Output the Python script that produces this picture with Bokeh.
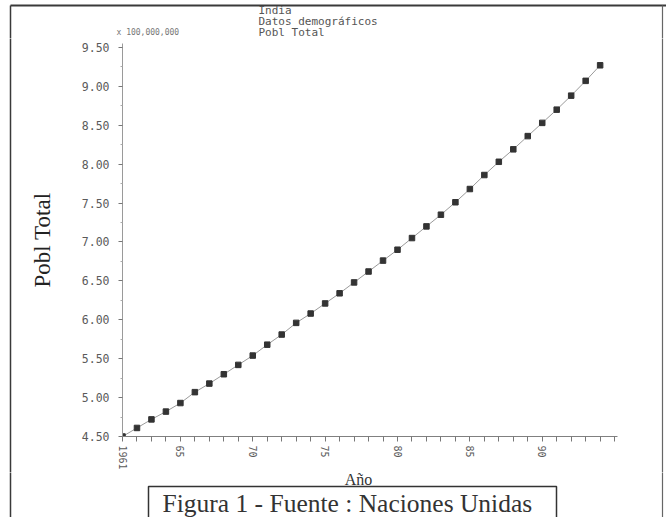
import math
from bokeh.plotting import figure
from bokeh.layouts import column, row
from bokeh.models import FixedTicker, NumeralTickFormatter, Range1d
from bokeh.core.properties import value
from bokeh.embed import file_html
from bokeh.resources import INLINE

# Población total de la India (cientos de millones), 1961-1994
years = list(range(1961, 1995))
pobl = [4.50, 4.61, 4.72, 4.82, 4.93, 5.07, 5.18, 5.30, 5.42, 5.54,
        5.68, 5.81, 5.96, 6.08, 6.21, 6.34, 6.48, 6.62, 6.76, 6.90,
        7.05, 7.20, 7.35, 7.51, 7.68, 7.86, 8.03, 8.19, 8.36, 8.53,
        8.70, 8.88, 9.07, 9.27]

y_ticks = [4.5, 5.0, 5.5, 6.0, 6.5, 7.0, 7.5, 8.0, 8.5, 9.0, 9.5]
x_ticks = list(range(1961, 1996))
x_tick_labels = {1961: "1961", 1965: "65", 1970: "70", 1975: "75",
                 1980: "80", 1985: "85", 1990: "90"}

title_lines = ["India", "Datos demográficos", "Pobl Total"]
y_scale_note = "x 100,000,000"
x_title = "Año"
y_title = "Pobl Total"
caption = "Figura 1  - Fuente : Naciones Unidas"

MONO = "DejaVu Sans Mono"
SERIF = "Liberation Serif"
PAGE_LINE = "#3a3a3a"

W, H = 666, 517
TOP_H, BOT_Y = 38, 472          # franja superior / franja inferior
LEFT_W, RIGHT_W = 26, 30        # franjas laterales
PAGE_L, PAGE_R, PAGE_T = 10, 662, 5


def strip(width, height, x0, x1, y0, y1):
    """figura auxiliar en coordenadas de página (y hacia abajo)"""
    f = figure(width=width, height=height, output_backend="svg",
               toolbar_location=None, x_axis_location=None, y_axis_location=None,
               x_range=Range1d(x0, x1), y_range=Range1d(y1, y0),
               min_border=0)
    f.frame_align = False
    f.outline_line_color = None
    f.grid.visible = False
    f.background_fill_color = "white"
    f.border_fill_color = "white"
    return f


# ---- franja superior: títulos y borde de la hoja
top = strip(W, TOP_H, 0, W, 0, TOP_H)
top.line([PAGE_L, W], [PAGE_T, PAGE_T], line_color=PAGE_LINE, line_width=2.2)
top.line([PAGE_L, PAGE_L], [PAGE_T, TOP_H + 5], line_color=PAGE_LINE, line_width=1.5)
top.line([PAGE_R, PAGE_R], [PAGE_T, TOP_H + 5], line_color="#666666", line_width=1.2)
top.text(x=[258] * 3, y=[10, 21, 32], text=title_lines,
         text_font=value(MONO), text_font_size="11px", text_color="#555555",
         text_baseline="middle", text_align="left")
top.text(x=[116], y=[32], text=[y_scale_note],
         text_font=value(MONO), text_font_size="8px", text_color="#777777",
         text_baseline="middle", text_align="left")

# ---- franjas laterales
MID_H = BOT_Y - TOP_H
left = strip(LEFT_W, MID_H, 0, LEFT_W, TOP_H, BOT_Y)
left.line([PAGE_L, PAGE_L], [TOP_H - 5, BOT_Y + 5], line_color=PAGE_LINE, line_width=1.5)
right = strip(RIGHT_W, MID_H, W - RIGHT_W, W, TOP_H, BOT_Y)
right.line([PAGE_R, PAGE_R], [TOP_H - 5, BOT_Y + 5], line_color="#666666", line_width=1.2)

# ---- gráfico principal
MAIN_W = W - LEFT_W - RIGHT_W
p = figure(width=MAIN_W, height=MID_H, output_backend="svg", toolbar_location=None,
           x_range=Range1d(1961, 1995.2), y_range=Range1d(4.5, 9.55),
           min_border_left=120 - LEFT_W, min_border_right=W - RIGHT_W - 617,
           min_border_top=43 - TOP_H, min_border_bottom=BOT_Y - 438)
p.frame_align = False
p.outline_line_color = None
p.grid.visible = False
p.background_fill_color = "white"
p.border_fill_color = "white"

ya = p.yaxis[0]
ya.ticker = FixedTicker(ticks=y_ticks,
                        minor_ticks=[v + 0.25 for v in y_ticks[:-1]])
ya.formatter = NumeralTickFormatter(format="0.00")
ya.axis_line_color = "#9a9a9a"
ya.major_tick_line_color = "#777777"
ya.minor_tick_line_color = "#aaaaaa"
ya.major_tick_out = 4
ya.major_tick_in = 0
ya.minor_tick_out = 2
ya.minor_tick_in = 0
ya.major_label_text_font = MONO
ya.major_label_text_font_size = "11.5px"
ya.major_label_text_color = "#5a5a5a"
ya.major_label_standoff = 9
ya.axis_label = y_title
ya.axis_label_text_font = SERIF
ya.axis_label_text_font_style = "normal"
ya.axis_label_text_font_size = "23px"
ya.axis_label_text_color = "#222222"
ya.axis_label_standoff = 24

xa = p.xaxis[0]
xa.ticker = FixedTicker(ticks=x_ticks)
xa.major_label_overrides = {t: x_tick_labels.get(t, "") for t in x_ticks}
xa.major_label_orientation = -math.pi / 2
xa.axis_line_color = "#808080"
xa.major_tick_line_color = "#777777"
xa.major_tick_out = 5
xa.major_tick_in = 0
xa.minor_tick_line_color = None
xa.major_label_text_font = MONO
xa.major_label_text_font_size = "10px"
xa.major_label_text_color = "#5a5a5a"
xa.major_label_standoff = 4

p.line(years, pobl, line_color="#9a9a9a", line_width=1)
p.scatter(years, pobl, marker="square", size=5.5,
          fill_color="#333333", line_color="#333333")

# ---- franja inferior: título del eje X y recuadro de la fuente
bot = strip(W, H - BOT_Y, 0, W, BOT_Y, H)
bot.line([PAGE_L, PAGE_L], [BOT_Y - 5, H + 5], line_color=PAGE_LINE, line_width=1.5)
bot.line([PAGE_R, PAGE_R], [BOT_Y - 5, H + 5], line_color="#666666", line_width=1.2)
bot.text(x=[358], y=[479], text=[x_title], text_font=value(SERIF),
         text_font_size="16px", text_color="#333333",
         text_align="center", text_baseline="middle")
bot.line([148, 148, 556, 556], [H + 5, 486, 486, H + 5],
         line_color="#333333", line_width=1.5)
bot.text(x=[162], y=[503], text=[caption], text_font=value(SERIF),
         text_font_size="25.5px", text_color="#333333",
         text_align="left", text_baseline="middle")

layout = column(top, row(left, p, right), bot)
open("out.html", "w").write(file_html(layout, INLINE))
